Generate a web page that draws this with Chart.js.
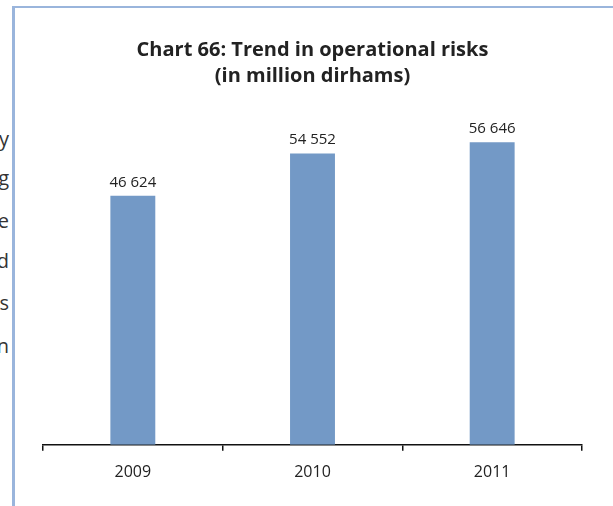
<!DOCTYPE html>
<html>
<head>
<meta charset="utf-8">
<script src="https://cdn.jsdelivr.net/npm/chart.js@4/dist/chart.umd.min.js"></script>
<style>
  html, body { margin: 0; padding: 0; background: #fff; }
  #wrap { position: relative; width: 613px; height: 506px; overflow: hidden; }
  #frame {
    position: absolute; left: 12px; top: 6px; right: -10px; bottom: -10px;
    border-left: 3px solid #9ab5dc; border-top: 2px solid #9ab5dc;
  }
  .frag {
    position: absolute; right: 604px; font: 20px "Open Sans", sans-serif; color: #333;
  }
  canvas { position: absolute; left: 0; top: 0; }
</style>
</head>
<body>
<div id="wrap">
  <div id="frame"></div>
  <div class="frag" style="top:125px">y</div>
  <div class="frag" style="top:164px">g</div>
  <div class="frag" style="top:207px">e</div>
  <div class="frag" style="top:247px">d</div>
  <div class="frag" style="top:289px">s</div>
  <div class="frag" style="top:332px">n</div>
  <canvas id="chart" width="613" height="506"></canvas>
</div>
<script>
// values (million dirhams)
const years = ["2009", "2010", "2011"];
const risks = [46624, 54552, 56646];
const titleLines = ["Chart 66: Trend in operational risks", "(in million dirhams)"];

const FONT = "'Open Sans', sans-serif";

// French-style thousands separator: 46 624
function fmt(v) {
  return String(v).replace(/\B(?=(\d{3})+(?!\d))/g, " ");
}

const barLabels = {
  id: "barLabels",
  afterDatasetsDraw(chart) {
    const ctx = chart.ctx;
    const meta = chart.getDatasetMeta(0);
    ctx.save();
    ctx.font = "15px " + FONT;
    ctx.fillStyle = "#222";
    ctx.textAlign = "center";
    ctx.textBaseline = "bottom";
    meta.data.forEach((bar, i) => {
      ctx.fillText(fmt(risks[i]), bar.x, bar.y - 6);
    });
    ctx.restore();
  }
};

new Chart(document.getElementById("chart"), {
  type: "bar",
  data: {
    labels: years,
    datasets: [{
      data: risks,
      backgroundColor: "#7399c6",
      borderWidth: 0,
      barPercentage: 0.25,
      categoryPercentage: 1
    }]
  },
  options: {
    responsive: false,
    animation: false,
    layout: { padding: { left: 43, right: 31, top: 37, bottom: 12 } },
    plugins: {
      legend: { display: false },
      tooltip: { enabled: false },
      title: {
        display: true,
        text: titleLines,
        color: "#222",
        font: { family: FONT, size: 20, weight: "bold", lineHeight: 1.3 },
        padding: { top: 0, bottom: 14 }
      }
    },
    scales: {
      x: {
        grid: { offset: true, drawOnChartArea: false, tickLength: 6, color: "#111", lineWidth: 1.5 },
        border: { display: true, color: "#111", width: 1.5 },
        ticks: { color: "#222", font: { family: FONT, size: 16 }, padding: 12 }
      },
      y: {
        display: false,
        min: 0,
        max: 64000
      }
    }
  },
  plugins: [barLabels]
});
</script>
</body>
</html>
